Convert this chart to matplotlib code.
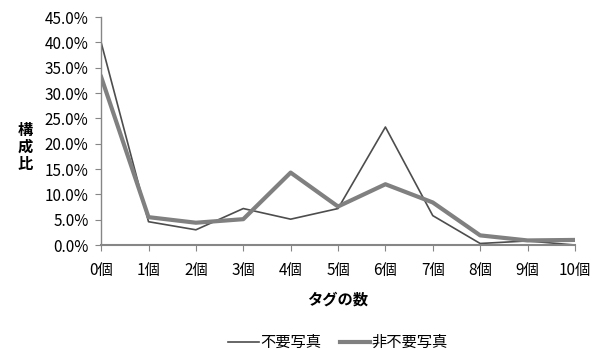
import matplotlib
matplotlib.use('Agg')
import matplotlib.pyplot as plt
from matplotlib.ticker import FuncFormatter

plt.rcParams['font.family'] = ['Noto Sans CJK JP', 'DejaVu Sans']

categories = ['0個', '1個', '2個', '3個', '4個', '5個', '6個', '7個', '8個', '9個', '10個']
unneeded = [40.0, 4.6, 3.0, 7.2, 5.1, 7.2, 23.3, 5.8, 0.3, 0.8, 0.0]
not_unneeded = [33.2, 5.5, 4.4, 5.1, 14.3, 7.6, 12.0, 8.4, 1.9, 0.9, 1.0]

fig = plt.figure(figsize=(6.02, 3.5), dpi=100)
ax = fig.add_axes([0.168, 0.30, 0.787, 0.651])

x = range(len(categories))
ax.plot(x, unneeded, color='#4d4d4d', lw=1.2, label='不要写真')
ax.plot(x, not_unneeded, color='#808080', lw=3.0, label='非不要写真')

ax.set_xlim(0, 10)
ax.set_ylim(0, 45)
ax.set_yticks(range(0, 46, 5))
ax.yaxis.set_major_formatter(FuncFormatter(lambda v, p: '%.1f%%' % v))
ax.set_xticks(list(x))
ax.set_xticklabels(categories)

for s in ['top', 'right']:
    ax.spines[s].set_visible(False)
for s in ['left', 'bottom']:
    ax.spines[s].set_color('#868686')
    ax.spines[s].set_linewidth(1.0)
ax.spines['bottom'].set_linewidth(1.5)
ax.tick_params(axis='both', colors='#868686', labelcolor='black', labelsize=11, length=4)
ax.tick_params(axis='x', pad=8)
ax.tick_params(axis='y', pad=5)

ax.set_xlabel('タグの数', fontsize=11, fontweight='bold', labelpad=9)
fig.text(0.042, 0.58, '構\n成\n比', fontsize=11, fontweight='bold',
         ha='center', va='center', linespacing=1.05)

ax.legend(loc='upper center', bbox_to_anchor=(0.5, -0.33), ncol=2, frameon=False,
          fontsize=11, handlelength=2.0, handletextpad=0.1, columnspacing=1.2)

fig.savefig('out.png', dpi=100)
